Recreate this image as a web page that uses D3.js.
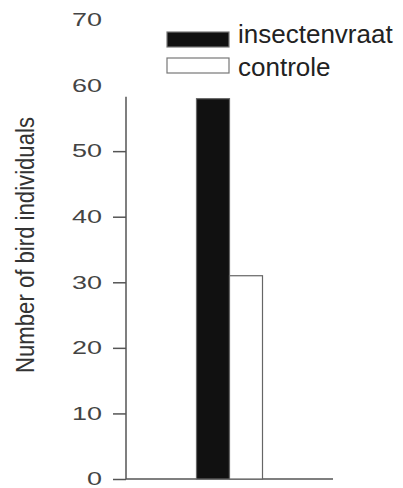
<!DOCTYPE html>
<html>
<head>
<meta charset="utf-8">
<script src="https://cdn.jsdelivr.net/npm/d3@7"></script>
<style>
  body { margin: 0; background: #fff; }
  svg { display: block; }
</style>
</head>
<body>
<svg id="chart" width="403" height="488"></svg>
<script>
// data
const series = ["insectenvraat", "controle"];
const values = [58, 31];
const colors = ["#111111", "#ffffff"];
const tick_values = [0, 10, 20, 30, 40, 50, 60, 70];
const y_label = "Number of bird individuals";

const svg = d3.select("svg#chart");

const y = d3.scaleLinear().domain([0, 70]).range([479, 20]);
const x_left = 126, x_right = 333;
const center = (x_left + x_right) / 2;
const bar_w = 33;
const x = d3.scaleBand()
  .domain(series)
  .range([center - bar_w, center + bar_w])
  .padding(0);

const axis_color = "#555";
const top_val = d3.max(values);

// y axis
const y_axis = svg.append("g")
  .attr("transform", `translate(${x_left},0)`)
  .call(d3.axisLeft(y).tickValues(tick_values).tickSize(13).tickPadding(11).tickSizeOuter(0));

y_axis.select(".domain").remove();
y_axis.selectAll(".tick line")
  .attr("stroke", axis_color)
  .attr("stroke-width", 1.5)
  .attr("display", (d) => d > top_val ? "none" : null);
y_axis.selectAll(".tick text")
  .attr("fill", "#444")
  .attr("font-family", "Liberation Sans, Arial, sans-serif")
  .attr("font-size", 18)
  .attr("textLength", (d) => String(d).length * 15)
  .attr("lengthAdjust", "spacingAndGlyphs");

// axis lines
svg.append("line")
  .attr("x1", x_left).attr("x2", x_left)
  .attr("y1", y(0)).attr("y2", y(top_val) - 2)
  .attr("stroke", axis_color).attr("stroke-width", 1.5);
svg.append("line")
  .attr("x1", x_left).attr("x2", x_right)
  .attr("y1", y(0)).attr("y2", y(0))
  .attr("stroke", axis_color).attr("stroke-width", 1.5);

// bars
svg.append("g")
  .selectAll("rect")
  .data(series)
  .join("rect")
  .attr("x", (d) => x(d))
  .attr("width", x.bandwidth())
  .attr("y", (d, i) => y(values[i]))
  .attr("height", (d, i) => y(0) - y(values[i]))
  .attr("fill", (d, i) => colors[i])
  .attr("stroke", "#666")
  .attr("stroke-width", 1.2);

// legend
const legend = svg.append("g")
  .attr("transform", "translate(167,32)");
const leg_items = legend.selectAll("g")
  .data(series)
  .join("g")
  .attr("transform", (d, i) => `translate(0,${i * 26})`);
leg_items.append("rect")
  .attr("width", 62)
  .attr("height", 15)
  .attr("fill", (d, i) => colors[i])
  .attr("stroke", "#777")
  .attr("stroke-width", 1.2);
leg_items.append("text")
  .attr("x", 71)
  .attr("y", (d, i) => 11 + i * 7)
  .attr("fill", "#222")
  .attr("font-family", "Liberation Sans, Arial, sans-serif")
  .attr("font-size", 26)
  .text((d) => d);

// y axis label
svg.append("text")
  .attr("transform", "translate(34,245) rotate(-90)")
  .attr("text-anchor", "middle")
  .attr("fill", "#333")
  .attr("font-family", "Liberation Sans Narrow, Liberation Sans, Arial, sans-serif")
  .attr("font-size", 25)
  .attr("textLength", 256)
  .attr("lengthAdjust", "spacingAndGlyphs")
  .text(y_label);
</script>
</body>
</html>
